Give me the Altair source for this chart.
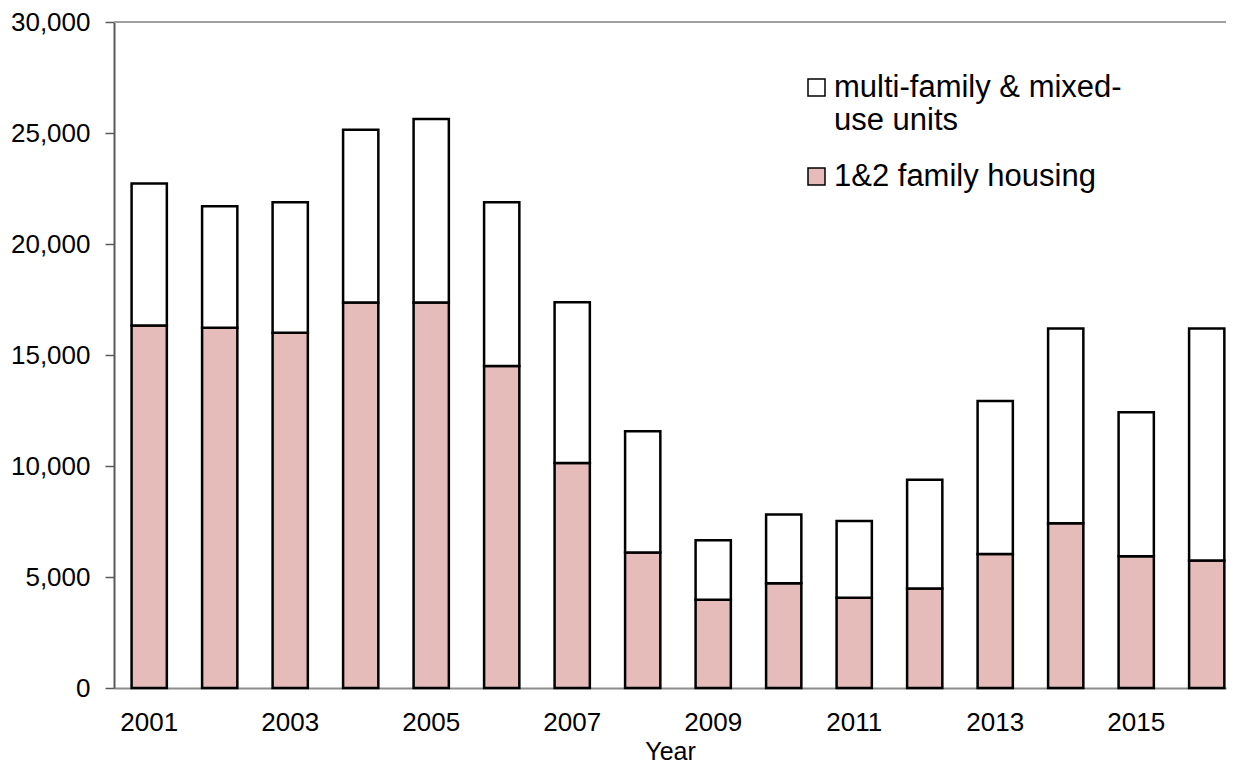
import altair as alt
import pandas as pd

years = list(range(2001, 2017))
single_family = [16330, 16230, 16000, 17370, 17370, 14500, 10140, 6100,
                 3970, 4720, 4070, 4480, 6040, 7420, 5930, 5740]
multi_family = [6400, 5470, 5880, 7780, 8260, 7380, 7240, 5470,
                2680, 3100, 3450, 4900, 6890, 8770, 6490, 10450]
series_names = ["multi-family & mixed-use units", "1&2 family housing"]
series_colors = ["#ffffff", "#e6bcba"]
x_tick_years = [2001, 2003, 2005, 2007, 2009, 2011, 2013, 2015]
y_ticks = [0, 5000, 10000, 15000, 20000, 25000, 30000]

rows = []
for yr, s, m in zip(years, single_family, multi_family):
    rows.append({"year": yr, "series": series_names[1], "units": s, "ord": 0})
    rows.append({"year": yr, "series": series_names[0], "units": m, "ord": 1})
df = pd.DataFrame(rows)

FONT = "Liberation Sans"

y_axis = alt.Axis(
    values=y_ticks, format=",.0f", title=None, grid=False, tickSize=9,
    labelPadding=15, labelFontSize=26, domainColor="#595959",
    domainWidth=2, tickColor="#595959", tickWidth=1.5,
    labelColor="#000000",
)
y_scale = alt.Scale(domain=[0, 30000], nice=False)

bars = alt.Chart(df).mark_bar(stroke="black", strokeWidth=2.5).encode(
    x=alt.X(
        "year:O",
        scale=alt.Scale(paddingInner=0.5, paddingOuter=0.1365, align=0.914),
        axis=alt.Axis(
            values=x_tick_years, title="Year", labelAngle=0, ticks=False,
            tickSize=0, labelPadding=21, labelFontSize=26, titleFontSize=25,
            titleFontWeight="normal", titlePadding=4, domainColor="#8c8c8c",
            domainWidth=2, labelColor="#000000", titleColor="#000000",
        ),
    ),
    y=alt.Y("units:Q", stack="zero", scale=y_scale, axis=y_axis),
    color=alt.Color(
        "series:N",
        scale=alt.Scale(domain=series_names, range=series_colors),
        legend=alt.Legend(
            orient="none", legendX=687, legendY=50, title=None,
            symbolType="square", symbolSize=289, symbolStrokeColor="black",
            symbolStrokeWidth=1.5, labelFontSize=31, labelOffset=2,
            labelLimit=600, rowPadding=24, padding=0, labelColor="#000000",
            labelBaseline="middle",
            labelExpr="datum.label == 'multi-family & mixed-use units' ? ['multi-family & mixed-', 'use units'] : datum.label",
        ),
    ),
    order=alt.Order("ord:Q"),
)

top_line = alt.Chart(pd.DataFrame({"units": [30000]})).mark_rule(
    color="#a0a0a0", strokeWidth=2
).encode(y=alt.Y("units:Q", scale=y_scale, axis=y_axis))

chart = alt.layer(bars, top_line).properties(
    width=1112, height=666,
    padding={"left": 2, "top": 1, "right": 0, "bottom": 0},
).configure(font=FONT).configure_view(stroke=None)

chart.save("out.html", embed_options={"renderer": "svg", "actions": False})
